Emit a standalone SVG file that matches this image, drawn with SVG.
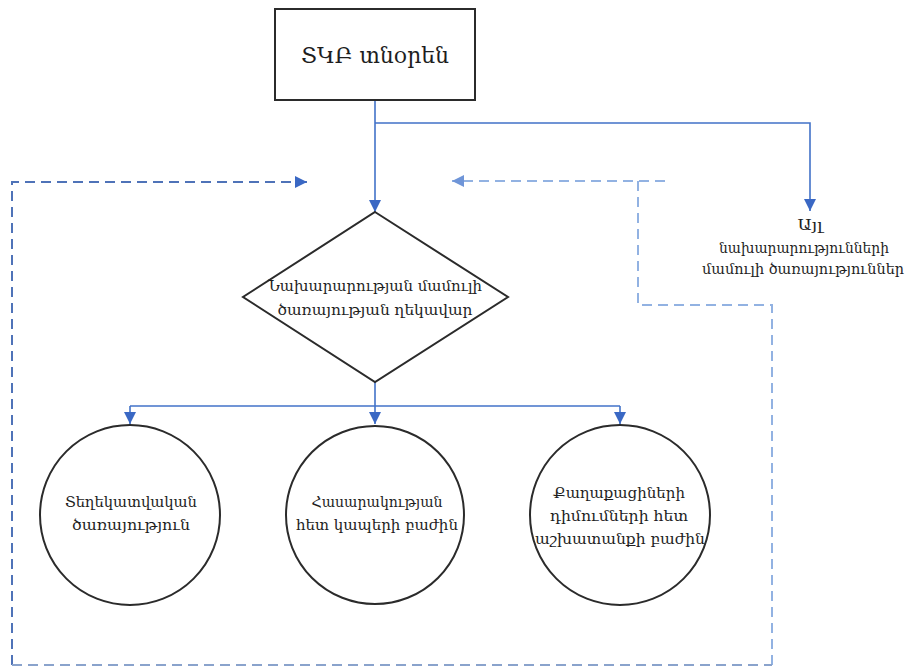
<svg xmlns="http://www.w3.org/2000/svg" width="911" height="670" viewBox="0 0 911 670">
<defs>
<style>
.shape{fill:#fff;stroke:#2b2b2b;stroke-width:2}
.solid{fill:none;stroke:#4272c8;stroke-width:1.6}
.dashA{fill:none;stroke:#4f73b8;stroke-width:2;stroke-dasharray:10,6}
.dashB{fill:none;stroke:#92b2e2;stroke-width:2;stroke-dasharray:10,6}
.dashC{fill:none;stroke:#8aa3cc;stroke-width:2;stroke-dasharray:10,6}
text{font-family:"DejaVu Serif","Liberation Serif",serif;fill:#1e1e1e;text-anchor:middle}
.t1{font-size:23px}
.t2{font-size:15px}
</style>
<marker id="arr" markerWidth="12" markerHeight="12" refX="10" refY="5" orient="auto" markerUnits="userSpaceOnUse" viewBox="0 0 10 10">
<path d="M0,0 L10,5 L0,10 z" fill="#3a68c4"/>
</marker>
<marker id="arrL" markerWidth="12" markerHeight="12" refX="10" refY="5" orient="auto" markerUnits="userSpaceOnUse" viewBox="0 0 10 10">
<path d="M0,0 L10,5 L0,10 z" fill="#6f95d8"/>
</marker>
</defs>
<rect width="911" height="670" fill="#fff"/>
<g id="connectors">
<path class="solid" d="M375,100 V212" marker-end="url(#arr)"/>
<path class="solid" d="M375,123 H810 V211" marker-end="url(#arr)"/>
<path class="solid" d="M375,382 V424" marker-end="url(#arr)"/>
<path class="solid" d="M130,406 H620"/>
<path class="solid" d="M130,406 V424" marker-end="url(#arr)"/>
<path class="solid" d="M620,406 V424" marker-end="url(#arr)"/>
<path class="dashA" d="M12,665 V182 H307" marker-end="url(#arr)"/>
<path class="dashB" d="M665,181 H452" marker-end="url(#arrL)"/>
<path class="dashB" d="M638,181 V305 H772 V665"/>
<path class="dashC" d="M12,665 H772"/>
</g>
<g id="node-director">
<rect class="shape" x="275" y="9" width="200" height="91"/>
<text class="t1" x="375" y="63" textLength="148" lengthAdjust="spacingAndGlyphs">ՏԿԲ տնօրեն</text>
</g>
<g id="node-head">
<polygon class="shape" points="375,212 508,297 375,382 243,297"/>
<text class="t2" x="375" y="291" textLength="214" lengthAdjust="spacingAndGlyphs">Նախարարության մամուլի</text>
<text class="t2" x="375" y="315" textLength="195" lengthAdjust="spacingAndGlyphs">ծառայության ղեկավար</text>
</g>
<g id="node-other">
<text class="t2" x="810" y="230" textLength="25" lengthAdjust="spacingAndGlyphs">Այլ</text>
<text class="t2" x="804" y="253" textLength="170" lengthAdjust="spacingAndGlyphs">նախարարությունների</text>
<text class="t2" x="803" y="274" textLength="202" lengthAdjust="spacingAndGlyphs">մամուլի ծառայություններ</text>
</g>
<g id="node-info">
<circle class="shape" cx="130" cy="515" r="90"/>
<text class="t2" x="131" y="507" textLength="132" lengthAdjust="spacingAndGlyphs">Տեղեկատվական</text>
<text class="t2" x="131" y="530" textLength="118" lengthAdjust="spacingAndGlyphs">ծառայություն</text>
</g>
<g id="node-public">
<circle class="shape" cx="375" cy="515" r="89"/>
<text class="t2" x="377" y="507" textLength="131" lengthAdjust="spacingAndGlyphs">Հասարակության</text>
<text class="t2" x="377" y="530" textLength="162" lengthAdjust="spacingAndGlyphs">հետ կապերի բաժին</text>
</g>
<g id="node-citizens">
<circle class="shape" cx="620" cy="515" r="90"/>
<text class="t2" x="619" y="498" textLength="132" lengthAdjust="spacingAndGlyphs">Քաղաքացիների</text>
<text class="t2" x="619" y="521" textLength="138" lengthAdjust="spacingAndGlyphs">դիմումների հետ</text>
<text class="t2" x="620" y="544" textLength="170" lengthAdjust="spacingAndGlyphs">աշխատանքի բաժին</text>
</g>
</svg>
